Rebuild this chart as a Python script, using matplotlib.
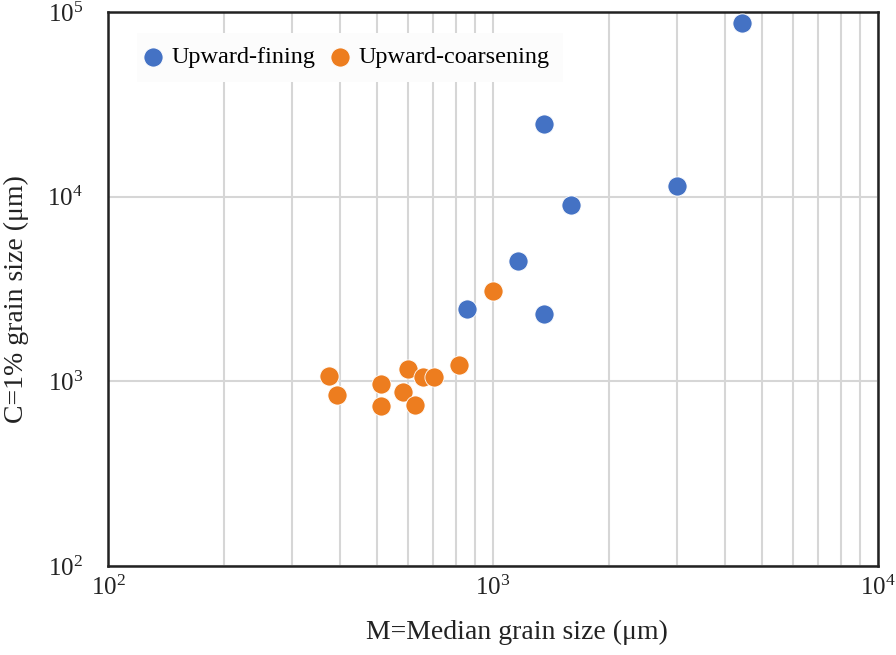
import math
import matplotlib
matplotlib.use("Agg")
import matplotlib.pyplot as plt
from matplotlib.ticker import LogLocator, FixedLocator, NullFormatter, FuncFormatter

plt.rcParams['font.family'] = ['Liberation Serif', 'DejaVu Serif']
plt.rcParams['mathtext.fontset'] = 'custom'
plt.rcParams['mathtext.rm'] = 'Liberation Serif'
plt.rcParams['mathtext.it'] = 'Liberation Serif:italic'

fining_m = [4440, 1355, 3005, 1596, 1162, 855, 1355]
fining_c = [87000, 24700, 11400, 9020, 4480, 2460, 2310]

coarse_m = [1000, 817, 375, 394, 512, 512, 601, 583, 627, 657, 703]
coarse_c = [3080, 1225, 1070, 843, 966, 734, 1166, 875, 745, 1055, 1055]

fig = plt.figure(figsize=(8.96, 6.55), dpi=100)
ax = fig.add_axes([108/896, 1-566/655, 770/896, 554/655])

ax.scatter(fining_m, fining_c, s=190, color='#4472C4', edgecolors='white', linewidths=0.6,
           label='Upward-fining', zorder=3)
ax.scatter(coarse_m, coarse_c, s=190, color='#ED7D1F', edgecolors='white', linewidths=0.6,
           label='Upward-coarsening', zorder=3)

ax.set_xscale('log')
ax.set_yscale('log')
ax.set_xlim(100, 10000)
ax.set_ylim(100, 100000)

ax.xaxis.set_major_locator(FixedLocator([100, 1000, 10000]))
ax.xaxis.set_minor_locator(LogLocator(base=10, subs=range(2, 10)))
ax.xaxis.set_minor_formatter(NullFormatter())
ax.yaxis.set_major_locator(FixedLocator([100, 1000, 10000, 100000]))
ax.yaxis.set_minor_locator(FixedLocator([]))

fmt = FuncFormatter(lambda v, p: r'$\mathregular{10^{%d}}$' % round(math.log10(v)))
ax.xaxis.set_major_formatter(fmt)
ax.yaxis.set_major_formatter(fmt)

ax.grid(True, which='major', color='#d6d6d6', linewidth=1.5, zorder=0)
ax.grid(True, which='minor', axis='x', color='#d6d6d6', linewidth=1.5, zorder=0)
ax.set_axisbelow(True)

ax.tick_params(which='both', length=0, labelsize=18, colors='#222222')
ax.tick_params(axis='x', pad=7)
ax.tick_params(axis='y', pad=18)
for sp in ax.spines.values():
    sp.set_linewidth(1.8)
    sp.set_color('#222222')

ax.set_xlabel('M=Median grain size (μm)', fontsize=20, color='#222222')
ax.set_ylabel('C=1% grain size (μm)', fontsize=20, color='#222222')
ax.xaxis.set_label_coords(0.531, -0.098)
ax.yaxis.set_label_coords(-0.102, 0.482)

leg = ax.legend(loc='upper left', bbox_to_anchor=(0.038, 0.962), ncol=2, fontsize=17.5,
                frameon=True, fancybox=False, framealpha=1, edgecolor='none',
                handlelength=0.2, handletextpad=0.66, columnspacing=0.9,
                borderpad=0.55, borderaxespad=0, markerscale=1.0)
leg.get_frame().set_facecolor('#fcfcfc')

fig.savefig('out.png', dpi=100)
